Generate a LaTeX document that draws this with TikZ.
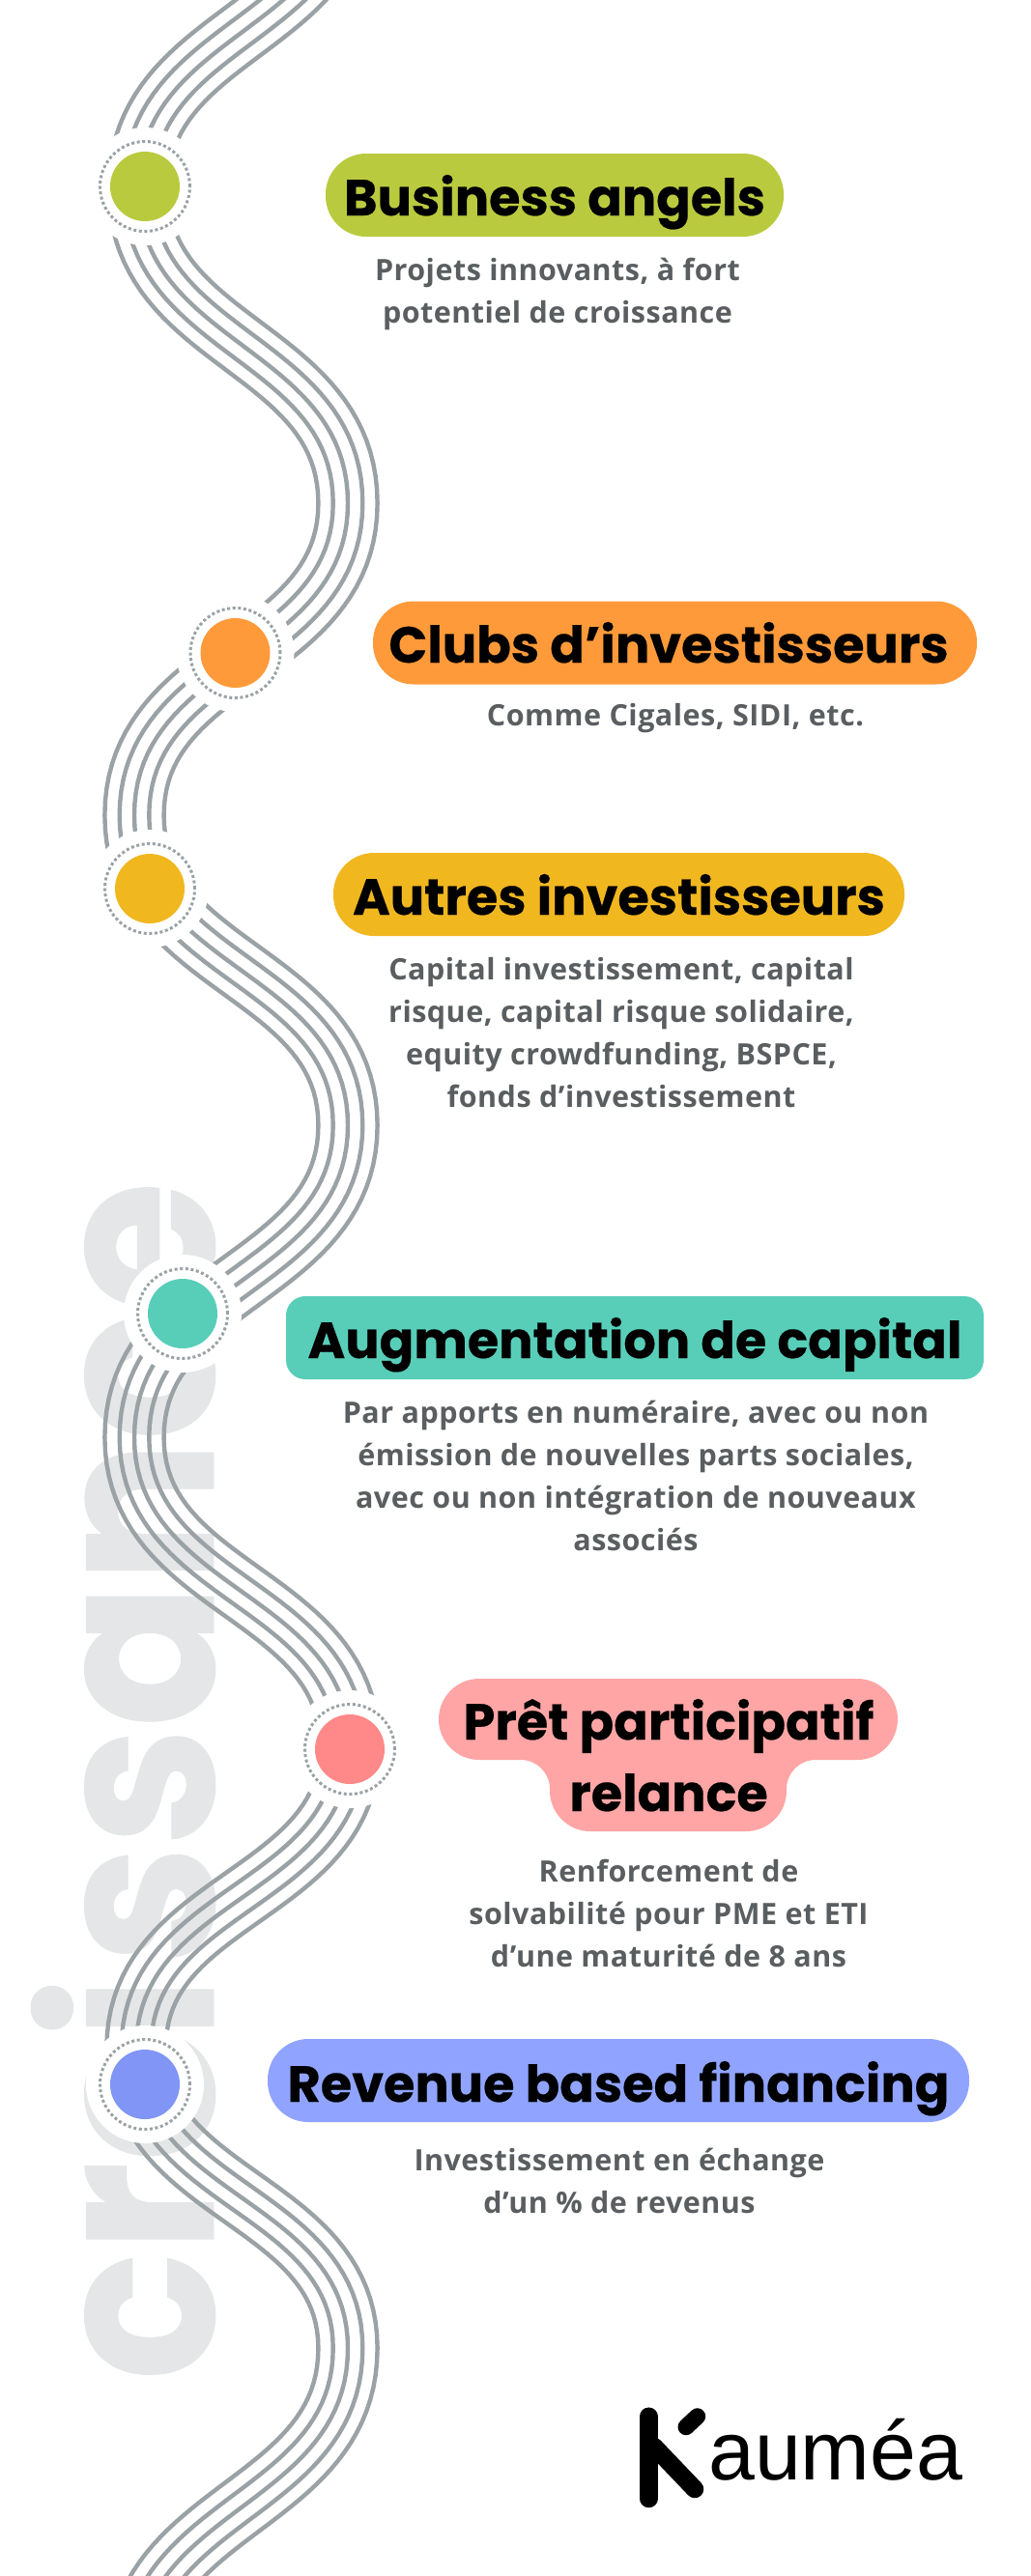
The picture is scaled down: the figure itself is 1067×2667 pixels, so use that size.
\documentclass[tikz,border=0pt]{standalone}
\usepackage{fontspec}
\setmainfont{Open Sans}[LetterSpace=1.6]
\newfontfamily\titlefont{Poppins}[BoldFont={Poppins Bold},BoldFeatures={FakeBold=0.4}]
\newfontfamily\logofont{Liberation Sans}
\definecolor{strandgray}{HTML}{9AA2A6}
\definecolor{wordgray}{HTML}{E4E6E7}
\definecolor{bodygray}{HTML}{5A5E60}
\definecolor{angelsfill}{HTML}{BACA3E}
\definecolor{clubsfill}{HTML}{FF9A3A}
\definecolor{autresfill}{HTML}{F0B71F}
\definecolor{capitalfill}{HTML}{58CEB9}
\definecolor{pretpill}{HTML}{FFA5A5}
\definecolor{pretfill}{HTML}{FF8888}
\definecolor{revenuepill}{HTML}{90A4FF}
\definecolor{revenuefill}{HTML}{8095F5}
\tikzset{
  strand/.style={draw=strandgray,line width=4.4pt},
  halo/.style={circle,fill=white,minimum size=122pt,inner sep=0pt},
  ring/.style={circle,draw=strandgray,line width=3pt,dash pattern=on 3pt off 2.6pt,minimum size=93pt,inner sep=0pt},
  dot/.style={circle,minimum size=72pt,inner sep=0pt},
  pill/.style={rounded corners=42pt,minimum height=86pt,inner sep=0pt},
  pilltitle/.style={anchor=base,font=\titlefont\bfseries\fontsize{52.5}{60}\selectfont,inner sep=0pt,text=black},
  bodytext/.style={font=\bfseries\fontsize{30.5}{44}\selectfont,text=bodygray,align=center,inner sep=0pt},
  declare function={
    sx(\t)=\t*\t*(3-2*\t);
    sy(\t)=1.5*\t*(1-\t)+\t*\t*\t;
    gx(\t)=6*\t*(1-\t);
    gy(\t)=1.5*((1-\t)*(1-\t)+\t*\t);
  }
}
\begin{document}
\begin{tikzpicture}[x=1pt,y=-1pt]
\useasboundingbox (0,0) rectangle (1067,2667);

% background word
\node[rotate=90,anchor=base,inner sep=0pt,text=wordgray,font=\titlefont\bfseries\fontsize{236}{236}\selectfont] (word) at (221,1844) {\scalebox{.93}[1]{cro\kern-14pt i\kern14pt ssance}};

% five strands
\foreach \xa/\ya/\xb/\yb in {360/-130/143/195,143/195/360/521,360/521/139/844,139/844/360/1165,
    360/1165/139/1488,139/1488/362/1808,362/1808/141/2120,141/2120/360/2431,360/2431/141/2760}
  \foreach \off in {-30.6,-15.3,0,15.3,30.6}
    \draw[strand] plot[variable=\t,domain=0:1,samples=41]
      ({\xa+(\xb-\xa)*sx(\t)+\off*((\yb-\ya)*gy(\t)/veclen((\xb-\xa)*gx(\t),(\yb-\ya)*gy(\t)))},
       {\ya+(\yb-\ya)*sy(\t)-\off*((\xb-\xa)*gx(\t)/veclen((\xb-\xa)*gx(\t),(\yb-\ya)*gy(\t)))});

% stops
\foreach \name/\cx/\cy/\col in {angels/150/193/angelsfill,clubs/243.5/676/clubsfill,autres/155/920/autresfill,
    capital/189/1360/capitalfill,pret/362/1811/pretfill,revenue/150/2158/revenuefill} {
  \node[halo] (halo\name) at (\cx,\cy) {};
  \node[ring] (ring\name) at (\cx,\cy) {};
  \node[dot,fill=\col] (dot\name) at (\cx,\cy) {};
}

% pills
\node[pill,fill=angelsfill,minimum width=474pt] (pillangels) at (574,202) {};
\node[pill,fill=clubsfill,minimum width=625pt] (pillclubs) at (698.5,665.5) {};
\node[pill,fill=autresfill,minimum width=591pt] (pillautres) at (640.5,926) {};
\node[pill,fill=capitalfill,minimum width=722pt,rounded corners=20pt] (pillcapital) at (657,1385) {};
\node[pill,fill=revenuepill,minimum width=726pt] (pillrevenue) at (640,2154) {};
\fill[pretpill] (690,1738) [rounded corners=42pt] -- (929,1738) -- (929,1822)
  [rounded corners=30pt] -- (814,1822) [rounded corners=42pt] -- (814,1896) -- (569,1896)
  [rounded corners=30pt] -- (569,1822) [rounded corners=42pt] -- (454,1822) -- (454,1738) [sharp corners] -- cycle;

% titles
\node[pilltitle] (titleangels) at (574,223) {Business angels};
\node[pilltitle] (titleclubs) at (692,686) {Clubs d’investisseurs};
\node[pilltitle] (titleautres) at (640.5,947) {Autres investisseurs};
\node[pilltitle] (titlecapital) at (657,1406) {Augmentation de capital};
\node[pilltitle] (titlepretup) at (692,1801) {Prêt participatif};
\node[pilltitle] (titlepretdown) at (692,1875) {relance};
\node[pilltitle] (titlerevenue) at (640,2176) {Revenue based financing};

% texts
\node[bodytext] (textangels) at (577,304) {Projets innovants, à fort\\potentiel de croissance};
\node[bodytext] (textclubs) at (699,744) {Comme Cigales, SIDI, etc.};
\node[bodytext] (textautres) at (643,1069) {Capital investissement, capital\\risque, capital risque solidaire,\\equity crowdfunding, BSPCE,\\fonds d’investissement};
\node[bodytext] (textcapital) at (658,1528) {Par apports en numéraire, avec ou non\\émission de nouvelles parts sociales,\\avec ou non intégration de nouveaux\\associés};
\node[bodytext] (textpret) at (692,1981) {Renforcement de\\solvabilité pour PME et ETI\\d’une maturité de 8 ans};
\node[bodytext] (textrevenue) at (641,2258) {Investissement en échange\\d’un \% de revenus};

% logo
\draw[line width=18.5pt,line cap=round] (671.3,2501.7) -- (671.3,2587);
\draw[line width=18.5pt,line cap=round] (677,2533) -- (719,2577);
\draw[line width=17pt,line cap=round] (710,2512.7) -- (721.7,2501.7);
\node[anchor=base west,inner sep=0pt,font=\logofont\fontsize{86}{86}\selectfont] (logotext) at (733,2567) {auméa};
\end{tikzpicture}
\end{document}
